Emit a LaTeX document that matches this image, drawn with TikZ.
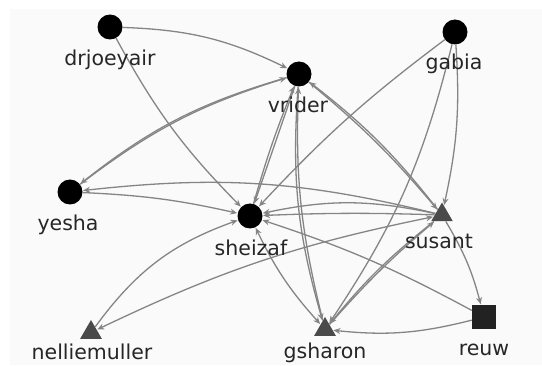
\documentclass[tikz,border=0pt]{standalone}
\usepackage{fontspec}
\setmainfont{DejaVu Sans}
\usetikzlibrary{arrows.meta,shapes.geometric}
\definecolor{edgegray}{HTML}{858585}
\definecolor{panelbg}{HTML}{FAFAFA}
\definecolor{trigray}{HTML}{4A4A4A}
\definecolor{sqgray}{HTML}{222222}
\definecolor{txtgray}{HTML}{262626}
\begin{document}
\begin{tikzpicture}[x=1pt,y=1pt,
  circ/.style={circle,fill=black,minimum size=25pt,inner sep=0pt},
  tri/.style={regular polygon,regular polygon sides=3,fill=trigray,minimum size=25pt,inner sep=0pt},
  sqr/.style={rectangle,fill=sqgray,minimum size=24pt,inner sep=0pt},
  lbl/.style={font=\fontsize{20.5}{22}\selectfont,text=txtgray,inner sep=0pt},
  edge/.style={draw=edgegray,line width=1.3pt,-{Stealth[length=7pt,width=6pt]},shorten >=0.5pt},
  twoway/.style={draw=edgegray,line width=1.3pt,{Stealth[length=7pt,width=6pt]}-{Stealth[length=7pt,width=6pt]},shorten >=0.5pt,shorten <=0.5pt}]
\useasboundingbox (0,0) rectangle (542,365);
\fill[white] (0,0) rectangle (542,365);
\fill[panelbg] (10,0) rectangle (542,356);

% nodes
\node[circ] (drjoeyair) at (110,338) {};
\node[circ] (vrider) at (299,291) {};
\node[circ] (gabia) at (455,333) {};
\node[circ] (yesha) at (70,173) {};
\node[circ] (sheizaf) at (250,149) {};
\node[tri] (susant) at (442,150) {};
\node[tri] (gsharon) at (325,35.5) {};
\node[tri] (nelliemuller) at (91,32.5) {};
\node[sqr] (reuw) at (484,48) {};

% edges
\draw[edge] (drjoeyair) to[bend left=12] (vrider);
\draw[edge] (drjoeyair) to[bend right=8] (sheizaf);
\draw[edge] (yesha) to[bend left=10] (vrider);
\draw[edge] (vrider) to[bend right=11] (yesha);
\draw[edge] (yesha) to[bend left=5] (sheizaf);
\draw[edge] (susant) to[bend right=10] (yesha);
\draw[edge] (nelliemuller) to[bend left=17] (sheizaf);
\draw[twoway] (susant) to[bend right=7] (nelliemuller);
\draw[twoway] (sheizaf) to[bend right=8] (gsharon);
\draw[edge] (vrider) to[bend right=10] (gsharon);
\draw[edge] (gsharon) to[bend left=8] (vrider);
\draw[edge] (vrider) to (sheizaf);
\draw[edge] (sheizaf) to[bend left=3] (vrider);
\draw[edge] (vrider) to[bend left=5] (susant);
\draw[edge] (susant) to[bend right=7] (vrider);
\draw[edge] (gabia) to[bend right=5] (sheizaf);
\draw[edge] (gabia) to[bend left=10] (gsharon);
\draw[edge] (gabia) to[bend left=8] (susant);
\draw[edge] (susant) to[bend left=8] (reuw);
\draw[edge] (reuw) to[bend right=5] (sheizaf);
\draw[edge] (reuw) to[bend left=10] (gsharon);
\draw[edge] (susant) to[bend right=6] (gsharon);
\draw[edge] (gsharon) to[bend left=4] (susant);
\draw[edge] (susant) to[bend right=12] (sheizaf);
\draw[edge] (susant) to[bend right=2] (sheizaf);

% labels
\node[lbl] (drjoeyair-l) at (110,305) {drjoeyair};
\node[lbl] (vrider-l) at (298,260) {vrider};
\node[lbl] (gabia-l) at (454,301) {gabia};
\node[lbl] (yesha-l) at (68,140) {yesha};
\node[lbl] (sheizaf-l) at (251,117) {sheizaf};
\node[lbl] (susant-l) at (439,124) {susant};
\node[lbl] (gsharon-l) at (325,12) {gsharon};
\node[lbl] (reuw-l) at (484,15) {reuw};
\node[lbl] (nelliemuller-l) at (92,13) {nelliemuller};
\end{tikzpicture}
\end{document}
